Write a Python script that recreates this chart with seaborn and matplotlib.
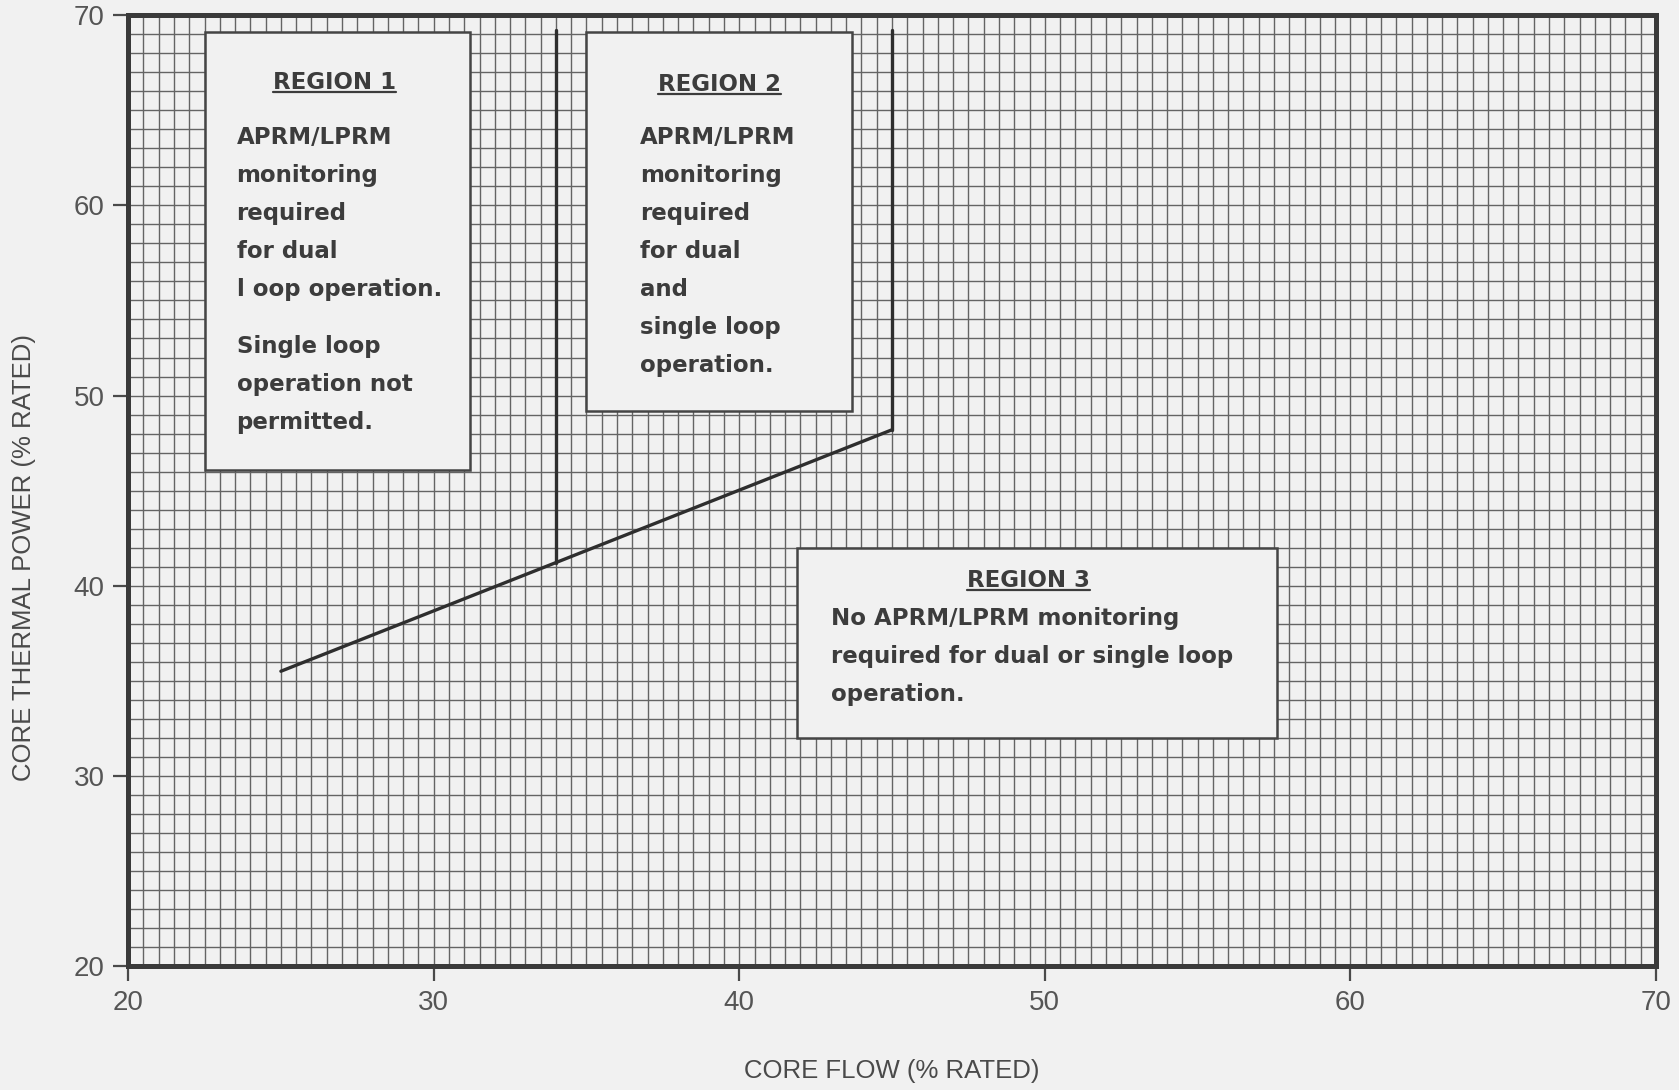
import numpy as np
import pandas as pd
import matplotlib
matplotlib.use("Agg")
import matplotlib.pyplot as plt
from matplotlib.ticker import MultipleLocator
from matplotlib.patches import Rectangle
from matplotlib.lines import Line2D
import seaborn as sns

# Boundary of the monitoring region (core flow %, core thermal power %)
boundary_flow = [25.0, 45.0]
boundary_power = [35.5, 48.2]

# Vertical dividers between regions 1/2 and 2/3 (core flow %)
divider_flow = [34.0, 45.0]
divider_top = 69.25

# Region boxes (flow left/right, power bottom/top)
box_left = [22.5, 35.0, 41.9]
box_right = [31.2, 43.7, 57.6]
box_bottom = [46.1, 49.2, 32.0]
box_top = [69.1, 69.1, 42.0]

region_titles = ["REGION 1", "REGION 2", "REGION 3"]
title_x = [26.75, 39.35, 49.45]
title_y = [66.6, 66.5, 40.4]

region_paragraphs = [
    [["APRM/LPRM", "monitoring", "required", "for dual", "l oop operation."],
     ["Single loop", "operation not", "permitted."]],
    [["APRM/LPRM", "monitoring", "required", "for dual", "and",
      "single loop", "operation."]],
    [["No APRM/LPRM monitoring", "required for dual or single loop",
      "operation."]],
]
text_x = [23.55, 36.75, 43.0]
text_y = [63.7, 63.7, 38.4]
line_step = 2.0

x_ticks = [20, 30, 40, 50, 60, 70]
y_ticks = [20, 30, 40, 50, 60, 70]
x_label = "CORE FLOW (% RATED)"
y_label = "CORE THERMAL POWER (% RATED)"

paper = "#f1f1f1"
ink = "#3a3a3a"
grid_ink = "#646464"

sns.set_theme(style="ticks")
plt.rcParams["font.family"] = ["Liberation Sans", "DejaVu Sans"]

fig = plt.figure(figsize=(16.79, 10.90), dpi=100, facecolor=paper)
ax = fig.add_axes([0.0763, 0.1138, 0.9863 - 0.0763, 0.986 - 0.1138])
ax.set_facecolor(paper)

ax.set_xlim(20, 70)
ax.set_ylim(20, 70)
ax.set_xticks(x_ticks)
ax.set_yticks(y_ticks)
ax.xaxis.set_minor_locator(MultipleLocator(0.5))
ax.yaxis.set_minor_locator(MultipleLocator(1))
ax.grid(which="both", color=grid_ink, linewidth=1.0)
ax.set_axisbelow(True)

ax.tick_params(which="major", direction="out", length=11, width=1.6,
               color="#4a4a4a", labelsize=20, labelcolor="#555555", pad=6)
ax.tick_params(which="minor", length=0)
for side, sp in ax.spines.items():
    sp.set_linewidth(3.6)
    sp.set_color(ink)
    sp.set_zorder(5)

# Region boundary line and dividers
line_kw = dict(color="#2e2e2e", linewidth=2.4, zorder=4,
               estimator=None, sort=False)
boundary = pd.DataFrame({"flow": boundary_flow, "power": boundary_power})
sns.lineplot(data=boundary, x="flow", y="power", ax=ax, **line_kw)
divider_bottom = np.interp(divider_flow, boundary_flow, boundary_power)
for fx, fb in zip(divider_flow, divider_bottom):
    seg = pd.DataFrame({"flow": [fx, fx], "power": [fb, divider_top]})
    sns.lineplot(data=seg, x="flow", y="power", ax=ax, **line_kw)

# Region boxes with their notes
text_kw = dict(family="DejaVu Sans", weight="bold", fontsize=16.5,
               color="#3c3c3c", zorder=6)
titles = []
for i in range(3):
    ax.add_patch(Rectangle((box_left[i], box_bottom[i]),
                           box_right[i] - box_left[i],
                           box_top[i] - box_bottom[i],
                           facecolor=paper, edgecolor="#454545",
                           linewidth=1.8, zorder=3))
    titles.append(ax.text(title_x[i], title_y[i], region_titles[i],
                          ha="center", va="center_baseline", **text_kw))
    y = text_y[i]
    for p, para in enumerate(region_paragraphs[i]):
        if p > 0:
            y -= 0.5 * line_step
        for line in para:
            ax.text(text_x[i], y, line, ha="left", va="center_baseline",
                    **text_kw)
            y -= line_step

ax.set_xlabel(x_label, fontsize=18.5, color="#4a4a4a", va="center")
ax.xaxis.set_label_coords(0.5, -0.110)
ax.set_ylabel(y_label, fontsize=18.5, color="#4a4a4a", va="center")
ax.yaxis.set_label_coords(-0.068, 0.43)

# Underline the region headings
fig.canvas.draw()
renderer = fig.canvas.get_renderer()
inv = ax.transData.inverted()
for t in titles:
    bb = t.get_window_extent(renderer)
    (x0, y0) = inv.transform((bb.x0, bb.y0 + 2))
    (x1, _) = inv.transform((bb.x1, bb.y0 + 2))
    ax.add_line(Line2D([x0, x1], [y0, y0], color="#3c3c3c",
                       linewidth=1.6, zorder=6))

fig.savefig("out.png", dpi=100, facecolor=paper)
